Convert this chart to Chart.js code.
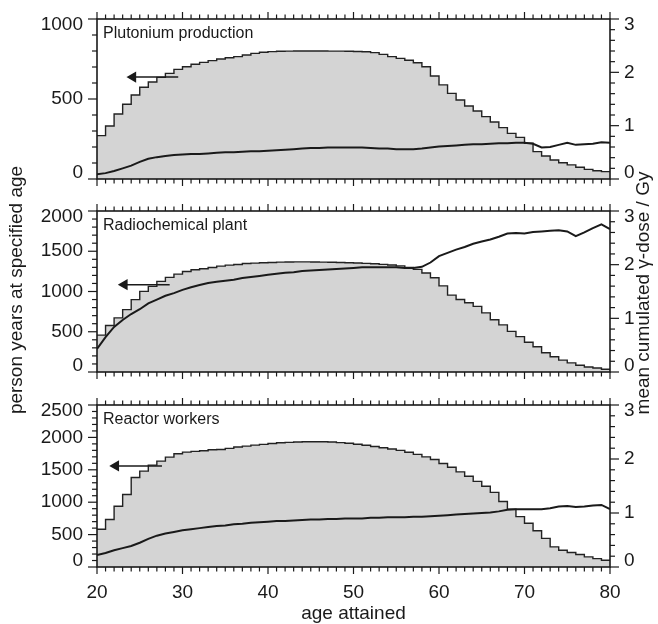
<!DOCTYPE html>
<html>
<head>
<meta charset="utf-8">
<script src="https://cdn.jsdelivr.net/npm/chart.js@4.4.0/dist/chart.umd.min.js"></script>
<style>
  body { margin: 0; background: #fff; }
  #wrap { position: relative; width: 658px; height: 624px; }
  #wrap canvas { position: absolute; left: 0; top: 0; }
</style>
</head>
<body>
<div id="wrap">
  <canvas id="c1" width="658" height="624"></canvas>
  <canvas id="c2" width="658" height="624"></canvas>
  <canvas id="c3" width="658" height="624"></canvas>
</div>
<script>
// age attained, 20..80 (bins are one year wide)
var ages = Array.from({length: 61}, function(_, i) { return 20 + i; });
var xTicks = [20, 30, 40, 50, 60, 70, 80];
var doseTicks = [0, 1, 2, 3];

var panelNames = ['Plutonium production', 'Radiochemical plant', 'Reactor workers'];

// person years at each age (ages 20..79)
var plutoniumYears = [271, 331, 406, 467, 525, 573, 606, 635, 660, 685,
  702, 717, 729, 740, 750, 758, 765, 775, 785, 792,
  796, 798, 799, 800, 800, 800, 800, 799, 799, 798,
  797, 795, 790, 779, 765, 754, 742, 727, 702, 644,
  588, 535, 494, 456, 425, 390, 356, 321, 285, 260,
  223, 171, 144, 119, 102, 88, 73, 60, 52, 46];
var radiochemYears = [458, 577, 672, 775, 899, 1002, 1064, 1126, 1175, 1216,
  1249, 1270, 1282, 1299, 1315, 1328, 1336, 1348, 1353, 1357,
  1361, 1365, 1367, 1368, 1368, 1366, 1365, 1363, 1360, 1357,
  1354, 1350, 1344, 1337, 1329, 1318, 1300, 1275, 1230, 1170,
  1070, 955, 900, 860, 815, 735, 650, 585, 505, 440,
  370, 314, 240, 190, 147, 113, 84, 63, 50, 34];
var reactorYears = [582, 732, 938, 1119, 1381, 1479, 1572, 1634, 1696, 1747,
  1773, 1784, 1794, 1809, 1814, 1830, 1851, 1866, 1881, 1892,
  1907, 1918, 1923, 1930, 1933, 1933, 1933, 1930, 1920, 1910,
  1895, 1878, 1860, 1841, 1820, 1800, 1770, 1738, 1700, 1660,
  1598, 1540, 1468, 1400, 1322, 1245, 1151, 1011, 892, 778,
  674, 560, 441, 311, 259, 223, 192, 156, 130, 104];

// mean cumulated gamma dose in Gy (ages 20..80)
var plutoniumDose = [0.09, 0.11, 0.15, 0.20, 0.25, 0.32, 0.38, 0.41, 0.43, 0.45,
  0.46, 0.47, 0.47, 0.48, 0.49, 0.50, 0.50, 0.51, 0.52, 0.52,
  0.53, 0.54, 0.55, 0.56, 0.57, 0.58, 0.58, 0.59, 0.59, 0.59,
  0.59, 0.59, 0.58, 0.57, 0.57, 0.56, 0.56, 0.56, 0.57, 0.59,
  0.61, 0.62, 0.63, 0.64, 0.65, 0.65, 0.66, 0.67, 0.67, 0.68,
  0.68, 0.66, 0.59, 0.60, 0.64, 0.68, 0.64, 0.65, 0.66, 0.69,
  0.68];
var radiochemDose = [0.43, 0.65, 0.84, 0.97, 1.08, 1.17, 1.28, 1.35, 1.42, 1.47,
  1.53, 1.58, 1.62, 1.66, 1.68, 1.70, 1.72, 1.75, 1.77, 1.79,
  1.81, 1.83, 1.85, 1.86, 1.88, 1.89, 1.90, 1.91, 1.92, 1.93,
  1.94, 1.95, 1.95, 1.95, 1.95, 1.95, 1.94, 1.94, 1.96, 2.04,
  2.16, 2.22, 2.28, 2.33, 2.39, 2.43, 2.47, 2.52, 2.58, 2.59,
  2.58, 2.61, 2.62, 2.63, 2.64, 2.62, 2.53, 2.60, 2.68, 2.75,
  2.66];
var reactorDose = [0.22, 0.26, 0.31, 0.35, 0.39, 0.45, 0.52, 0.58, 0.62, 0.65,
  0.68, 0.70, 0.72, 0.74, 0.76, 0.77, 0.79, 0.80, 0.82, 0.83,
  0.84, 0.85, 0.85, 0.86, 0.87, 0.88, 0.88, 0.89, 0.89, 0.90,
  0.90, 0.90, 0.91, 0.91, 0.92, 0.92, 0.92, 0.93, 0.93, 0.94,
  0.95, 0.96, 0.97, 0.98, 0.99, 1.00, 1.01, 1.03, 1.06, 1.07,
  1.07, 1.07, 1.07, 1.09, 1.12, 1.13, 1.11, 1.12, 1.14, 1.15,
  1.07];

var leftMax = [1000, 2000, 2500];
var leftTicks = [[0, 500, 1000], [0, 500, 1000, 1500, 2000], [0, 500, 1000, 1500, 2000, 2500]];

// arrows pointing to the left axis: [start age, head age, level]
var arrowStart = [29.5, 28.5, 27.6];
var arrowHead = [24.2, 23.2, 22.2];
var arrowLevel = [637, 1085, 1560];

// panel boxes (top, bottom) in the picture
var panelTop = [19, 211, 405];
var panelBottom = [179, 372, 567];

var FONT = "'Liberation Sans', Arial, Helvetica, sans-serif";
var INK = '#1a1a1a';

function seg(ctx, x1, y1, x2, y2) {
    ctx.beginPath();
    ctx.moveTo(x1, y1);
    ctx.lineTo(x2, y2);
    ctx.stroke();
}

var framePlugin = {
    id: 'frame',
    afterDatasetsDraw: function(chart, args, opts) {
        var ctx = chart.ctx, a = chart.chartArea;
        var xs = chart.scales.x, yl = chart.scales.y, yr = chart.scales.y2;
        var v, px, py;
        ctx.save();
        ctx.strokeStyle = INK;
        ctx.lineWidth = 1.2;

        // age ticks, top and bottom of the box
        for (v = 20; v <= 80; v++) {
            px = xs.getPixelForValue(v);
            var len = v % 10 === 0 ? 7 : 4.5;
            seg(ctx, px, a.top, px, a.top - len);
            seg(ctx, px, a.bottom, px, a.bottom + len);
        }
        // person-year ticks
        for (v = 0; v <= yl.max; v += 100) {
            py = yl.getPixelForValue(v);
            seg(ctx, a.left, py, a.left - (v % 500 === 0 ? 9 : 5), py);
        }
        // dose ticks every 0.2 Gy
        for (v = 0; v <= 15; v++) {
            py = yr.getPixelForValue(v / 5);
            seg(ctx, a.right, py, a.right + (v % 5 === 0 ? 9 : 5), py);
        }
        ctx.lineWidth = 1.6;
        ctx.strokeRect(a.left, a.top, a.right - a.left, a.bottom - a.top);

        ctx.fillStyle = INK;
        ctx.font = '19px ' + FONT;
        ctx.textBaseline = 'middle';
        ctx.textAlign = 'right';
        opts.leftTicks.forEach(function(t) {
            var y = yl.getPixelForValue(t);
            if (t === yl.max) y += 6;
            if (t === yl.min) y -= 6;
            ctx.fillText(String(t), a.left - 14, y);
        });
        ctx.textAlign = 'left';
        doseTicks.forEach(function(t) {
            var y = yr.getPixelForValue(t);
            if (t === yr.max) y += 6;
            if (t === yr.min) y -= 6;
            ctx.fillText(String(t), a.right + 14, y);
        });

        ctx.font = '16px ' + FONT;
        ctx.fillText(opts.name, a.left + 6, a.top + 15);

        if (opts.bottom) {
            ctx.font = '19px ' + FONT;
            ctx.textAlign = 'center';
            xTicks.forEach(function(t) {
                ctx.fillText(String(t), xs.getPixelForValue(t), a.bottom + 26);
            });
            ctx.fillText('age attained', (a.left + a.right) / 2, a.bottom + 47);

            ctx.save();
            ctx.translate(17, 290);
            ctx.rotate(-Math.PI / 2);
            ctx.fillText('person years at specified age', 0, 0);
            ctx.restore();

            ctx.save();
            ctx.translate(644, 293);
            ctx.rotate(-Math.PI / 2);
            ctx.fillText('mean cumulated \u03b3-dose / Gy', 0, 0);
            ctx.restore();
        }
        ctx.restore();
    }
};

function makePanel(id, i, years, dose) {
    var stepData = years.map(function(v, k) { return {x: ages[k], y: v}; });
    stepData.push({x: 80, y: years[years.length - 1]});
    var doseData = dose.map(function(v, k) { return {x: ages[k], y: v}; });

    return new Chart(document.getElementById(id), {
        type: 'line',
        data: {
            datasets: [{
                label: 'dose',
                data: doseData,
                yAxisID: 'y2',
                borderColor: INK,
                borderWidth: 2,
                pointRadius: 0,
                fill: false
            }, {
                label: 'arrow',
                data: [{x: arrowStart[i], y: arrowLevel[i]}, {x: arrowHead[i], y: arrowLevel[i]}],
                yAxisID: 'y',
                borderColor: INK,
                borderWidth: 1.5,
                pointRadius: [0, 5],
                pointStyle: 'triangle',
                pointRotation: -90,
                pointBackgroundColor: INK,
                pointBorderColor: INK,
                fill: false
            }, {
                label: 'person years',
                data: stepData,
                yAxisID: 'y',
                stepped: true,
                borderColor: '#222',
                borderWidth: 1.4,
                backgroundColor: '#d4d4d4',
                pointRadius: 0,
                fill: 'origin'
            }]
        },
        options: {
            responsive: false,
            animation: false,
            events: [],
            layout: {
                padding: {left: 97, right: 48, top: panelTop[i], bottom: 624 - panelBottom[i]}
            },
            scales: {
                x: {type: 'linear', min: 20, max: 80, display: false},
                y: {type: 'linear', position: 'left', min: 0, max: leftMax[i], display: false},
                y2: {type: 'linear', position: 'right', min: 0, max: 3, display: false}
            },
            plugins: {
                legend: {display: false},
                tooltip: {enabled: false},
                frame: {name: panelNames[i], leftTicks: leftTicks[i], bottom: i === 2}
            }
        },
        plugins: [framePlugin]
    });
}

makePanel('c1', 0, plutoniumYears, plutoniumDose);
makePanel('c2', 1, radiochemYears, radiochemDose);
makePanel('c3', 2, reactorYears, reactorDose);
</script>
</body>
</html>
